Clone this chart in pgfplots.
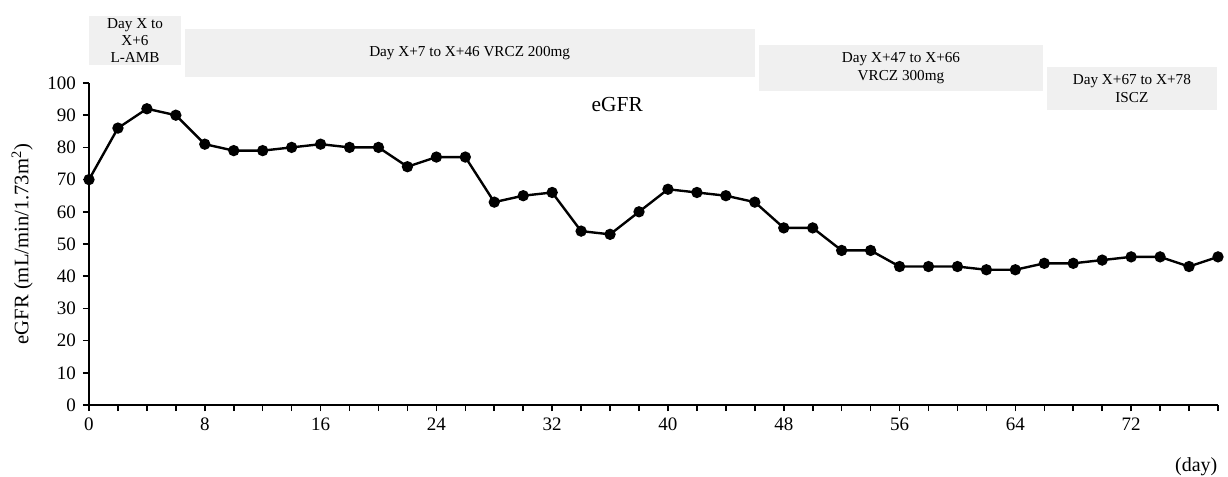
\documentclass[border=0pt]{standalone}
\usepackage{fontspec}
\setmainfont{Liberation Serif}
\usepackage{pgfplots}
\pgfplotsset{compat=1.18}
\definecolor{boxgray}{HTML}{F0F0F0}
\begin{document}
\begin{tikzpicture}
\useasboundingbox (-44.5pt,-36pt) rectangle (569.5pt,202.5pt);
\begin{axis}[
  scale only axis,
  width=564.5pt, height=161pt,
  xmin=0, xmax=78, ymin=0, ymax=100,
  axis x line*=bottom, axis y line*=left,
  axis line style={line width=0.9pt},
  xtick={0,8,...,72},
  minor xtick={2,4,...,78},
  ytick={0,10,...,100},
  tick align=outside,
  major tick length=3pt, minor tick length=3pt,
  tick style={line width=0.8pt, black},
  every tick label/.append style={font=\fontsize{9.5}{10.5}\selectfont},
  /pgf/number format/assume math mode=true,
  ylabel={eGFR (mL/min/1.73m\textsuperscript{2})},
  ylabel style={font=\fontsize{10.3}{11}\selectfont, at={(axis description cs:-0.0593,0.5)}, anchor=center},
  clip=false,
]
\fill[boxgray] (axis cs:0,120.8) rectangle (axis cs:6.36,105.6);
\node[align=center, font=\fontsize{7.6}{8.6}\selectfont] at (axis cs:3.18,113.2) {Day X to\\X+6\\L-AMB};
\fill[boxgray] (axis cs:6.63,116.8) rectangle (axis cs:46.0,101.9);
\node[font=\fontsize{7.6}{8.6}\selectfont] at (axis cs:26.3,109.3) {Day X+7 to X+46 VRCZ 200mg};
\fill[boxgray] (axis cs:46.3,111.8) rectangle (axis cs:65.9,97.5);
\node[align=center, font=\fontsize{7.6}{8.6}\selectfont] at (axis cs:56.1,104.6) {Day X+47 to X+66\\VRCZ 300mg};
\fill[boxgray] (axis cs:66.2,105.0) rectangle (axis cs:77.9,91.6);
\node[align=center, font=\fontsize{7.6}{8.6}\selectfont] at (axis cs:72.05,98.3) {Day X+67 to X+78\\ISCZ};
\node[font=\fontsize{10.7}{12}\selectfont] at (axis cs:36.5,93.2) {eGFR};
\node[font=\fontsize{10}{11}\selectfont] at (axis cs:76.5,-19.3) {(day)};
\addplot[black, line width=1.2pt, mark=*, mark size=2.2pt] coordinates {
(0,70) (2,86) (4,92) (6,90) (8,81) (10,79) (12,79) (14,80) (16,81) (18,80)
(20,80) (22,74) (24,77) (26,77) (28,63) (30,65) (32,66) (34,54) (36,53) (38,60)
(40,67) (42,66) (44,65) (46,63) (48,55) (50,55) (52,48) (54,48) (56,43) (58,43)
(60,43) (62,42) (64,42) (66,44) (68,44) (70,45) (72,46) (74,46) (76,43) (78,46)
};
\end{axis}
\end{tikzpicture}
\end{document}
